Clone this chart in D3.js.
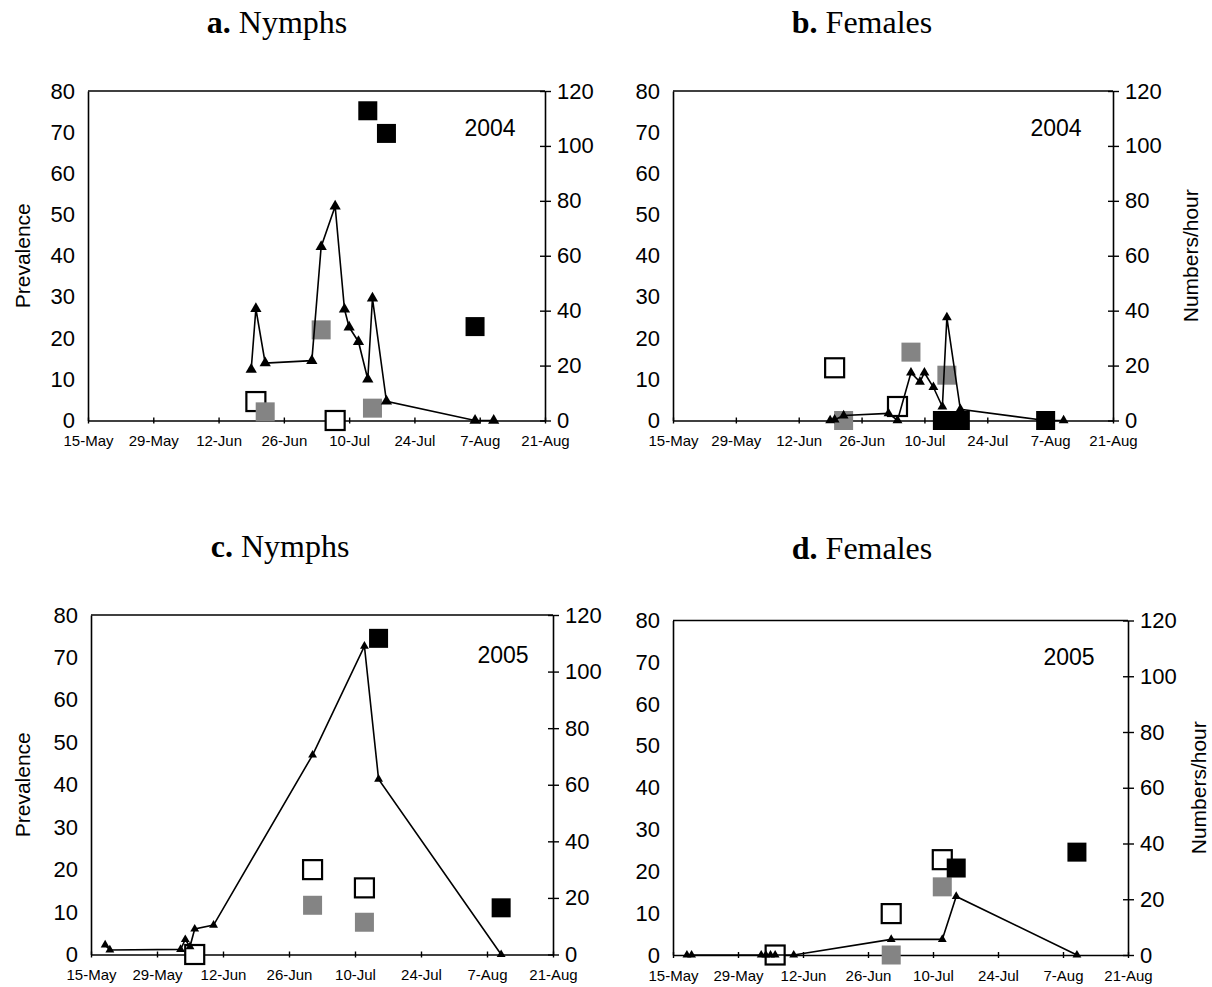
<!DOCTYPE html>
<html>
<head>
<meta charset="utf-8">
<script src="https://cdn.jsdelivr.net/npm/d3@7"></script>
<style>
  body { margin: 0; background: #fff; }
  svg { display: block; }
</style>
</head>
<body>
<svg id="chart" width="1212" height="987"></svg>
<script>
// tick labels
const xTickLabels = ["15-May", "29-May", "12-Jun", "26-Jun", "10-Jul", "24-Jul", "7-Aug", "21-Aug"];
const leftTicks = [0, 10, 20, 30, 40, 50, 60, 70, 80];
const rightTicks = [0, 20, 40, 60, 80, 100, 120];

// a. Nymphs 2004 : numbers/hour (line) and prevalence (squares)
const aLineDates = ["19-Jun", "20-Jun", "22-Jun", "2-Jul", "4-Jul", "7-Jul", "9-Jul", "10-Jul", "12-Jul", "14-Jul", "15-Jul", "18-Jul", "6-Aug", "10-Aug"];
const aLineValues = [18.6, 40.7, 20.9, 21.8, 63.3, 78, 40.5, 34, 28.7, 15, 44.5, 7, 0, 0];
const aOpenDates = ["20-Jun", "7-Jul"];
const aOpenValues = [4.6, 0];
const aGrayDates = ["22-Jun", "4-Jul", "15-Jul"];
const aGrayValues = [2.1, 22, 3.0];
const aBlackDates = ["14-Jul", "18-Jul", "6-Aug"];
const aBlackValues = [75.2, 69.7, 22.8];

// b. Females 2004
const bLineDates = ["19-Jun", "20-Jun", "22-Jun", "2-Jul", "4-Jul", "7-Jul", "9-Jul", "10-Jul", "12-Jul", "14-Jul", "15-Jul", "18-Jul", "6-Aug", "10-Aug"];
const bLineValues = [0, 0.3, 1.8, 2.6, 0, 17.4, 14.1, 17.4, 12.1, 5, 37.5, 4.1, 0, 0];
const bOpenDates = ["20-Jun", "4-Jul"];
const bOpenValues = [12.8, 3.4];
const bGrayDates = ["22-Jun", "7-Jul", "15-Jul"];
const bGrayValues = [0, 16.6, 11];
const bBlackDates = ["14-Jul", "18-Jul", "6-Aug"];
const bBlackValues = [0, 0, 0];

// c. Nymphs 2005
const cLineDates = ["18-May", "19-May", "3-Jun", "4-Jun", "5-Jun", "6-Jun", "10-Jun", "1-Jul", "12-Jul", "15-Jul", "10-Aug"];
const cLineValues = [3.4, 1.6, 1.8, 5.3, 2.8, 9.0, 10.4, 70.5, 109, 62, 0];
const cOpenDates = ["6-Jun", "1-Jul", "12-Jul"];
const cOpenValues = [0, 20, 15.7];
const cGrayDates = ["1-Jul", "12-Jul"];
const cGrayValues = [11.6, 7.6];
const cBlackDates = ["15-Jul", "10-Aug"];
const cBlackValues = [74.5, 11];

// d. Females 2005
const dLineDates = ["18-May", "19-May", "3-Jun", "4-Jun", "5-Jun", "6-Jun", "10-Jun", "1-Jul", "12-Jul", "15-Jul", "10-Aug"];
const dLineValues = [0, 0, 0, 0, 0, 0, 0, 5.6, 5.6, 21, 0];
const dOpenDates = ["6-Jun", "1-Jul", "12-Jul"];
const dOpenValues = [0, 9.9, 22.8];
const dGrayDates = ["1-Jul", "12-Jul"];
const dGrayValues = [0, 16.3];
const dBlackDates = ["15-Jul", "10-Aug"];
const dBlackValues = [20.8, 24.6];

const svg = d3.select("#chart");
const parse = d3.timeParse("%d-%b-%Y");
const zip = (ds, vs, yr) => ds.map((d, i) => ({ date: parse(d + "-" + yr), v: vs[i] }));

const panels = [
  { letter: "a.", name: " Nymphs", year: "2004", left: 88, right: 545, top: 91, bottom: 420.5,
    titleX: 277, titleY: 33, yearX: 490, yearY: 136, tri: 55, leftLabel: true, rightLabelX: null,
    line: [aLineDates, aLineValues], open: [aOpenDates, aOpenValues], gray: [aGrayDates, aGrayValues], black: [aBlackDates, aBlackValues] },
  { letter: "b.", name: " Females", year: "2004", left: 673, right: 1113, top: 91, bottom: 420.5,
    titleX: 862, titleY: 33, yearX: 1056, yearY: 136, tri: 42, leftLabel: false, rightLabelX: 1198,
    line: [bLineDates, bLineValues], open: [bOpenDates, bOpenValues], gray: [bGrayDates, bGrayValues], black: [bBlackDates, bBlackValues] },
  { letter: "c.", name: " Nymphs", year: "2005", left: 91, right: 553, top: 615, bottom: 954.5,
    titleX: 280, titleY: 557, yearX: 503, yearY: 663, tri: 34, leftLabel: true, rightLabelX: null,
    line: [cLineDates, cLineValues], open: [cOpenDates, cOpenValues], gray: [cGrayDates, cGrayValues], black: [cBlackDates, cBlackValues] },
  { letter: "d.", name: " Females", year: "2005", left: 673, right: 1128, top: 620.5, bottom: 955,
    titleX: 862, titleY: 559, yearX: 1069, yearY: 665, tri: 34, leftLabel: false, rightLabelX: 1206,
    line: [dLineDates, dLineValues], open: [dOpenDates, dOpenValues], gray: [dGrayDates, dGrayValues], black: [dBlackDates, dBlackValues] }
];

const sq = 19;

function styleAxis(g) {
  g.select(".domain").attr("stroke", "#000").attr("stroke-width", 1.6);
  g.selectAll(".tick line").attr("stroke", "#000").attr("stroke-width", 1.4);
  g.selectAll(".tick text").attr("fill", "#000").attr("font-family", "'Liberation Sans', Arial, sans-serif");
}

panels.forEach(p => {
  const g = svg.append("g");
  const x = d3.scaleTime()
    .domain([parse("15-May-" + p.year), parse("21-Aug-" + p.year)])
    .range([p.left, p.right]);
  const yL = d3.scaleLinear().domain([0, 80]).range([p.bottom, p.top]);
  const yR = d3.scaleLinear().domain([0, 120]).range([p.bottom, p.top]);
  const xTicks = xTickLabels.map(t => parse(t + "-" + p.year));

  // top frame line
  g.append("line")
    .attr("x1", p.left).attr("x2", p.right)
    .attr("y1", p.top).attr("y2", p.top)
    .attr("stroke", "#000").attr("stroke-width", 1.6);

  const gl = g.append("g")
    .attr("transform", "translate(" + p.left + ",0)")
    .call(d3.axisLeft(yL).tickValues(leftTicks).tickSize(0).tickPadding(13));
  styleAxis(gl);
  gl.selectAll(".tick text").attr("font-size", 22);

  const gr = g.append("g")
    .attr("transform", "translate(" + p.right + ",0)")
    .call(d3.axisRight(yR).tickValues(rightTicks).tickSizeInner(6).tickSizeOuter(0).tickPadding(6));
  styleAxis(gr);
  gr.selectAll(".tick line").attr("x1", -5);
  gr.selectAll(".tick text").attr("font-size", 22);

  const gb = g.append("g")
    .attr("transform", "translate(0," + p.bottom + ")")
    .call(d3.axisBottom(x).tickValues(xTicks).tickFormat((d, i) => xTickLabels[i]).tickSizeInner(3).tickSizeOuter(0).tickPadding(12));
  styleAxis(gb);
  gb.selectAll(".tick line").attr("y1", -3);
  gb.selectAll(".tick text").attr("font-size", 15);

  // squares: open, gray, black
  const drawSquares = (arr, fill, stroke) => {
    g.append("g").selectAll("rect")
      .data(zip(arr[0], arr[1], p.year))
      .join("rect")
      .attr("x", d => x(d.date) - sq / 2)
      .attr("y", d => yL(d.v) - sq / 2)
      .attr("width", sq).attr("height", sq)
      .attr("fill", fill)
      .attr("stroke", stroke)
      .attr("stroke-width", stroke === "none" ? 0 : 2.2);
  };
  drawSquares(p.open, "#fff", "#000");
  drawSquares(p.gray, "#848484", "none");
  drawSquares(p.black, "#000", "none");

  // numbers/hour line with triangles
  const pts = zip(p.line[0], p.line[1], p.year);
  g.append("path")
    .datum(pts)
    .attr("fill", "none")
    .attr("stroke", "#000")
    .attr("stroke-width", 1.6)
    .attr("d", d3.line().x(d => x(d.date)).y(d => yR(d.v)));
  g.append("g").selectAll("path")
    .data(pts)
    .join("path")
    .attr("transform", d => "translate(" + x(d.date) + "," + yR(d.v) + ")")
    .attr("d", d3.symbol(d3.symbolTriangle, p.tri))
    .attr("fill", "#000");

  // title
  const t = svg.append("text")
    .attr("x", p.titleX).attr("y", p.titleY)
    .attr("text-anchor", "middle")
    .attr("font-family", "'Liberation Serif', 'Times New Roman', serif")
    .attr("font-size", 32);
  t.append("tspan").attr("font-weight", "bold").text(p.letter);
  t.append("tspan").text(p.name);

  // year
  svg.append("text")
    .attr("x", p.yearX).attr("y", p.yearY)
    .attr("text-anchor", "middle")
    .attr("font-family", "'Liberation Sans', Arial, sans-serif")
    .attr("font-size", 23)
    .text(p.year);

  const midY = (p.top + p.bottom) / 2;
  if (p.leftLabel) {
    svg.append("text")
      .attr("transform", "translate(30," + midY + ") rotate(-90)")
      .attr("text-anchor", "middle")
      .attr("font-family", "'Liberation Sans', Arial, sans-serif")
      .attr("font-size", 21)
      .text("Prevalence");
  }
  if (p.rightLabelX) {
    svg.append("text")
      .attr("transform", "translate(" + p.rightLabelX + "," + midY + ") rotate(-90)")
      .attr("text-anchor", "middle")
      .attr("font-family", "'Liberation Sans', Arial, sans-serif")
      .attr("font-size", 21)
      .text("Numbers/hour");
  }
});
</script>
</body>
</html>
